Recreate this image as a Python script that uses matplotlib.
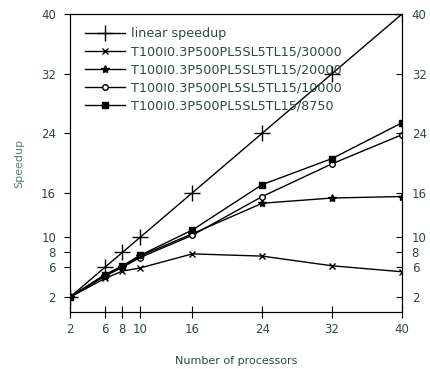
import matplotlib.pyplot as plt
import numpy as np

# processors and speedup per dataset
procs = [2, 6, 8, 10, 16, 24, 32, 40]
linear = [2, 6, 8, 10, 16, 24, 32, 40]
d30000 = [2, 4.5, 5.5, 5.9, 7.8, 7.5, 6.2, 5.4]
d20000 = [2, 4.8, 6.0, 7.5, 10.5, 14.6, 15.3, 15.5]
d10000 = [2, 5.0, 6.0, 7.3, 10.3, 15.5, 19.9, 23.8]
d8750 = [2, 5.0, 6.2, 7.6, 11.0, 17.1, 20.6, 25.4]
yticks = [2, 6, 8, 10, 16, 24, 32, 40]
labels = ["linear speedup", "T100I0.3P500PL5SL5TL15/30000", "T100I0.3P500PL5SL5TL15/20000",
          "T100I0.3P500PL5SL5TL15/10000", "T100I0.3P500PL5SL5TL15/8750"]

txt = "#2f4a3a"

fig = plt.figure(figsize=(4.31, 3.69), dpi=100)
ax = fig.add_axes([0.1624, 0.1545, 0.7703, 0.8075])

ax.plot(procs, linear, "k-", marker="+", ms=12, mew=1, lw=1, label=labels[0])
ax.plot(procs, d30000, "k-", marker="x", ms=4, mew=1, lw=1, label=labels[1])
ax.plot(procs, d20000, "k-", marker="*", ms=6, lw=1, label=labels[2])
ax.plot(procs, d10000, "k-", marker="o", ms=4, mfc="white", mew=1, lw=1, label=labels[3])
ax.plot(procs, d8750, "k-", marker="s", ms=5, lw=1, label=labels[4])

ax.set_xlim(2, 40)
ax.set_ylim(0, 40)
ax.set_xticks(procs)
ax.set_yticks(yticks)
ax.tick_params(axis="x", direction="inout", length=9, labelsize=8.5, labelcolor=txt)
ax.tick_params(axis="y", direction="out", length=4, pad=6, labelsize=8.5, labelcolor=txt)

ax2 = ax.twinx()
ax2.set_ylim(0, 40)
ax2.set_yticks(yticks)
ax2.tick_params(axis="y", direction="in", length=4, pad=7, labelsize=8.5, labelcolor=txt)

ax.set_xlabel("Number of processors", fontsize=8, color=txt, labelpad=14)
ax.set_ylabel("Speedup", fontsize=8, color="#4a8a6a", labelpad=12)

ax.legend(loc="upper left", frameon=False, fontsize=9.2, labelcolor=txt,
          handlelength=3.1, handletextpad=0.5, labelspacing=0.4, borderaxespad=0.0,
          borderpad=0.3, bbox_to_anchor=(0.035, 0.968))

fig.savefig("out.png", dpi=100)
